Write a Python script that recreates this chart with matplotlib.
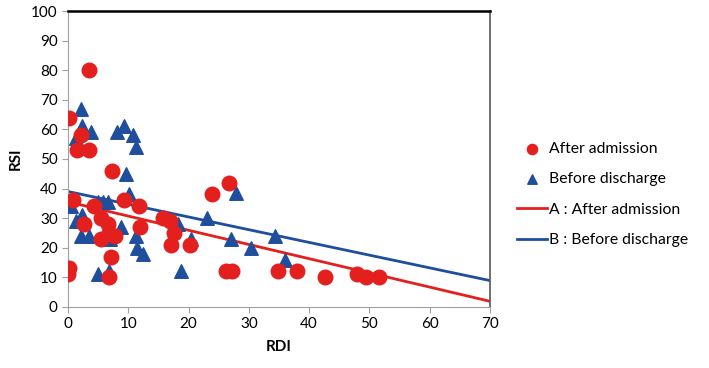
import matplotlib.pyplot as plt
import numpy as np

plt.rcParams['font.family'] = ['Lato', 'DejaVu Sans']

# After admission (red circles)
after_rdi = [0.2, 3.5, 0.8, 1.5, 3.5, 2.2, 0.0, 0.2, 2.6, 4.3, 5.5, 6.6, 6.8,
             7.3, 6.8, 7.2, 7.8, 5.5, 9.3, 11.8, 11.9, 15.7, 16.9, 17.0, 17.6,
             20.2, 23.9, 26.7, 26.2, 27.2, 34.8, 38.0, 42.6, 47.9, 49.4, 51.6]
after_rsi = [64, 80, 36, 53, 53, 58, 11, 13, 28, 34, 30, 28, 25,
             46, 10, 17, 24, 23, 36, 34, 27, 30, 29, 21, 25,
             21, 38, 42, 12, 12, 12, 12, 10, 11, 10, 10]

# Before discharge (blue triangles)
before_rdi = [2.2, 2.3, 1.3, 3.8, 8.1, 9.3, 10.8, 11.3, 9.6, 10.1, 0.5, 1.3,
              2.3, 2.2, 3.5, 5.0, 5.8, 6.6, 6.0, 7.0, 8.8, 11.3, 11.4, 12.4,
              5.0, 6.8, 18.7, 18.2, 20.4, 27.8, 23.0, 27.0, 30.3, 34.3, 36.0]
before_rsi = [67, 61, 57, 59, 59, 61, 58, 54, 45, 38, 34, 29,
              31, 24, 24, 35.5, 35.5, 35.5, 24, 23, 27, 24, 20, 18,
              11, 12, 12, 28, 23, 38.5, 30, 23, 20, 24, 16]

# fitted trend lines: intercept, slope
line_a = (35.5, -0.48)
line_b = (39.0, -0.43)
line_x = [0, 70]

red = '#E3201E'
blue = '#1F4E9C'

fig = plt.figure(figsize=(7.09, 3.68), dpi=100)
ax = fig.add_axes([0.096, 0.166, 0.595, 0.804])

xs = np.array(line_x)
ax.plot(xs, line_a[0] + line_a[1] * xs, color=red, lw=2, label='A : After admission', zorder=2)
ax.plot(xs, line_b[0] + line_b[1] * xs, color=blue, lw=2, label='B : Before discharge', zorder=2)
ax.scatter(before_rdi, before_rsi, marker='^', s=95, color=blue, label='Before discharge', zorder=3)
ax.scatter(after_rdi, after_rsi, marker='o', s=110, color=red, label='After admission', zorder=4)

ax.set_xlim(0, 70)
ax.set_ylim(0, 100)
ax.set_xticks(range(0, 71, 10))
ax.set_yticks(range(0, 101, 10))
ax.set_xlabel('RDI', fontsize=11, fontweight='bold', labelpad=6)
ax.set_ylabel('RSI', fontsize=11, fontweight='bold', labelpad=6)
ax.tick_params(labelsize=11, color='#A0A0A0', length=4)

for side in ['left', 'bottom']:
    ax.spines[side].set_color('#A0A0A0')
ax.spines['top'].set_color('black')
ax.spines['top'].set_linewidth(1.8)
ax.spines['right'].set_color('#555555')
ax.spines['right'].set_linewidth(1.2)

handles, labels = ax.get_legend_handles_labels()
order = [3, 2, 0, 1]
ax.legend([handles[i] for i in order], [labels[i] for i in order],
          loc='center left', bbox_to_anchor=(1.03, 0.38), frameon=False,
          fontsize=11.3, labelspacing=1.05, handlelength=1.9, handletextpad=0.15,
          scatterpoints=1, markerscale=0.7)

fig.savefig('out.png', dpi=100)
